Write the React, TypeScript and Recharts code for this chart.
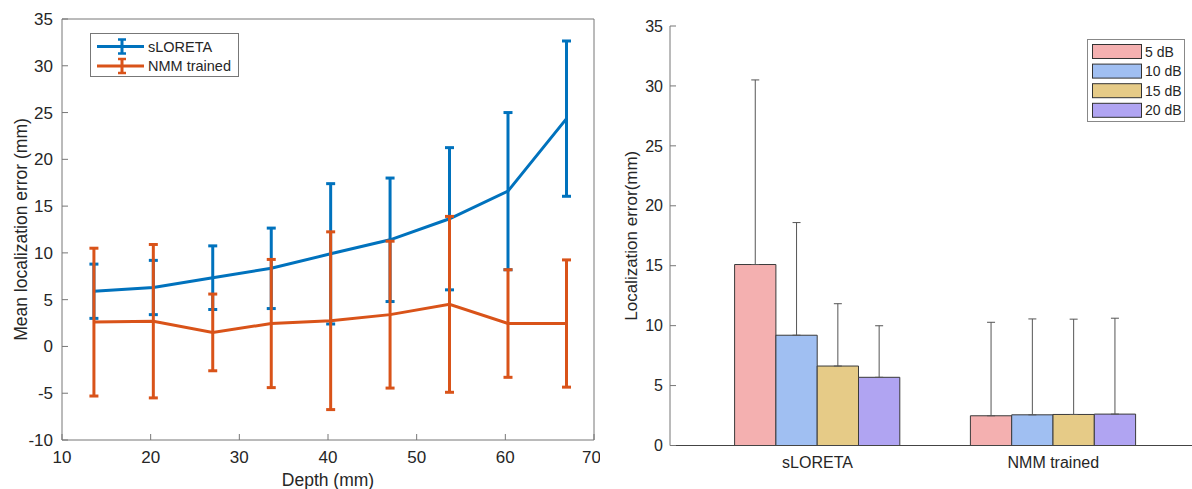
import React from 'react';
import { LineChart, Line, XAxis, YAxis, ErrorBar, Legend, BarChart, Bar } from 'recharts';

// left panel: mean error vs depth
const depths = [13.6, 20.3, 27.0, 33.6, 40.3, 47.0, 53.7, 60.3, 66.9];
const sloretaMean = [5.9, 6.3, 7.35, 8.35, 9.9, 11.4, 13.65, 16.6, 24.35];
const sloretaErr = [2.9, 2.9, 3.4, 4.3, 7.5, 6.6, 7.6, 8.4, 8.3];
const nmmMean = [2.6, 2.7, 1.5, 2.45, 2.75, 3.4, 4.5, 2.45, 2.45];
const nmmErr = [7.9, 8.2, 4.1, 6.85, 9.5, 7.85, 9.4, 5.75, 6.8];
const depthTicks = [10, 20, 30, 40, 50, 60, 70];
const meanTicks = [-10, -5, 0, 5, 10, 15, 20, 25, 30, 35];

// right panel: error per method and SNR
const methods = ['sLORETA', 'NMM trained'];
const snrLabels = ['5 dB', '10 dB', '15 dB', '20 dB'];
const snr5 = [15.1, 2.48];
const snr10 = [9.2, 2.56];
const snr15 = [6.63, 2.59];
const snr20 = [5.69, 2.62];
const snr5Up = [15.4, 7.8];
const snr10Up = [9.4, 8.0];
const snr15Up = [5.2, 7.95];
const snr20Up = [4.3, 8.0];
const errTicks = [0, 5, 10, 15, 20, 25, 30, 35];

const BLUE = '#0072BD';
const ORANGE = '#D95319';
const barColors = ['#f4b0b0', '#a0bff2', '#e6cb87', '#b0a4f2'];
const TEXT = '#262626';

const lineRows = depths.map((d, i) => ({
  depth: d,
  sl: sloretaMean[i],
  slErr: sloretaErr[i],
  nmm: nmmMean[i],
  nmmErr: nmmErr[i],
}));

const barRows = methods.map((m, i) => ({
  method: m,
  db5: snr5[i],
  db10: snr10[i],
  db15: snr15[i],
  db20: snr20[i],
  db5Err: [0, snr5Up[i]],
  db10Err: [0, snr10Up[i]],
  db15Err: [0, snr15Up[i]],
  db20Err: [0, snr20Up[i]],
}));

const barKeys = ['db5', 'db10', 'db15', 'db20'];

const LineLegend = () => {
  const rows = [
    { name: 'sLORETA', color: BLUE },
    { name: 'NMM trained', color: ORANGE },
  ];
  return (
    <div style={{ width: 147, height: 42, border: '1px solid #777', background: '#fff' }}>
      <svg width={147} height={42}>
        {rows.map((r, i) => {
          const cy = 12.5 + i * 19.5;
          return (
            <g key={r.name}>
              <line x1={6} x2={53} y1={cy} y2={cy} stroke={r.color} strokeWidth={3} />
              <line x1={31} x2={31} y1={cy - 7} y2={cy + 7} stroke={r.color} strokeWidth={3} />
              <line x1={27} x2={35} y1={cy - 7} y2={cy - 7} stroke={r.color} strokeWidth={2.5} />
              <line x1={27} x2={35} y1={cy + 7} y2={cy + 7} stroke={r.color} strokeWidth={2.5} />
              <text x={57} y={cy + 5} fontSize={14.5} fill={TEXT}>{r.name}</text>
            </g>
          );
        })}
      </svg>
    </div>
  );
};

const BarLegend = () => (
  <div style={{ width: 96, height: 81, border: '1px solid #888', background: '#fff' }}>
    <svg width={96} height={81}>
      {snrLabels.map((s, i) => {
        const cy = 11.5 + i * 19.6;
        return (
          <g key={s}>
            <rect x={4.5} y={cy - 7} width={49} height={14} fill={barColors[i]} stroke="#333" strokeWidth={1} />
            <text x={57} y={cy + 5} fontSize={14} fill={TEXT}>{s}</text>
          </g>
        );
      })}
    </svg>
  </div>
);

const leftTick = { fontSize: 17, fill: TEXT };
const rightTick = { fontSize: 16, fill: TEXT };

export default function App() {
  return (
    <div
      style={{
        position: 'absolute',
        left: 0,
        top: 0,
        width: 1192,
        height: 489,
        overflow: 'hidden',
        background: '#fff',
        fontFamily: '"Liberation Sans", Arial, sans-serif',
      }}
    >
      <div style={{ position: 'absolute', left: 0, top: 0 }}>
        <LineChart width={600} height={489} data={lineRows} margin={{ top: 18, right: 5, bottom: 0, left: 12 }}>
          <XAxis
            dataKey="depth"
            type="number"
            domain={[10, 70]}
            ticks={depthTicks}
            tickSize={-6}
            tickMargin={17}
            tick={leftTick}
            height={49}
            stroke="#777"
            label={{ value: 'Depth (mm)', position: 'insideBottom', offset: 3, style: { fontSize: 17.5, fill: TEXT } }}
          />
          <XAxis
            xAxisId="top"
            orientation="top"
            dataKey="depth"
            type="number"
            domain={[10, 70]}
            ticks={depthTicks}
            tickSize={-6}
            tick={false}
            height={1}
            stroke="#777"
          />
          <YAxis
            type="number"
            domain={[-10, 35]}
            ticks={meanTicks}
            tickSize={-6}
            tickMargin={15}
            tick={leftTick}
            width={50}
            stroke="#777"
            label={{
              value: 'Mean localization error (mm)',
              angle: -90,
              position: 'insideLeft',
              offset: 9,
              style: { textAnchor: 'middle', fontSize: 17.5, fill: TEXT },
            }}
          />
          <YAxis
            yAxisId="right"
            orientation="right"
            type="number"
            domain={[-10, 35]}
            ticks={meanTicks}
            tickSize={-6}
            tick={false}
            width={1}
            stroke="#777"
          />
          <Line dataKey="sl" stroke={BLUE} strokeWidth={3} dot={false} isAnimationActive={false}>
            <ErrorBar dataKey="slErr" direction="y" width={4.5} stroke={BLUE} strokeWidth={3} isAnimationActive={false} />
          </Line>
          <Line dataKey="nmm" stroke={ORANGE} strokeWidth={3} dot={false} isAnimationActive={false}>
            <ErrorBar dataKey="nmmErr" direction="y" width={4.5} stroke={ORANGE} strokeWidth={3} isAnimationActive={false} />
          </Line>
          <Legend
            layout="vertical"
            align="center"
            verticalAlign="middle"
            content={LineLegend}
            wrapperStyle={{ left: 90, top: 33, width: 'auto' }}
          />
        </LineChart>
      </div>

      <div style={{ position: 'absolute', left: 590, top: 0 }}>
        <BarChart
          width={602}
          height={489}
          data={barRows}
          barGap={0}
          barSize={41.3}
          margin={{ top: 26, right: 0, bottom: 0, left: 30 }}
        >
          <XAxis
            dataKey="method"
            padding={{ left: 29.6, right: 20.8 }}
            tickLine={false}
            tickSize={0}
            tickMargin={11.5}
            tick={rightTick}
            height={43.5}
            stroke="#444"
          />
          <YAxis
            type="number"
            domain={[0, 35]}
            ticks={errTicks}
            tickSize={-6}
            tickMargin={13}
            tick={rightTick}
            width={50}
            stroke="#777"
            label={{
              value: 'Localization error(mm)',
              angle: -90,
              position: 'insideLeft',
              offset: 10.7,
              style: { textAnchor: 'middle', fontSize: 17, fill: TEXT },
            }}
          />
          {barKeys.map((k, i) => (
            <Bar key={k} dataKey={k} fill={barColors[i]} stroke="#3a3a3a" strokeWidth={1} isAnimationActive={false}>
              <ErrorBar dataKey={`${k}Err`} direction="y" width={4} stroke="#555" strokeWidth={1} isAnimationActive={false} />
            </Bar>
          ))}
          <Legend
            layout="vertical"
            align="center"
            verticalAlign="middle"
            content={BarLegend}
            wrapperStyle={{ left: 497, top: 39, width: 'auto' }}
          />
        </BarChart>
      </div>
    </div>
  );
}
